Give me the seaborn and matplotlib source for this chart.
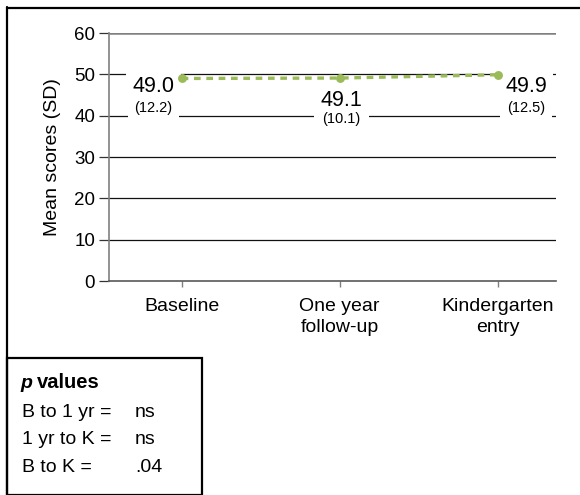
import matplotlib
matplotlib.use("Agg")
import matplotlib.pyplot as plt
import seaborn as sns
import pandas as pd
from matplotlib.lines import Line2D
from matplotlib.patches import Rectangle

categories = ["Baseline", "One year\nfollow-up", "Kindergarten\nentry"]
means = [49.0, 49.1, 49.9]
sds = [12.2, 10.1, 12.5]
yticks = [0, 10, 20, 30, 40, 50, 60]
pv_labels = ["B to 1 yr =", "1 yr to K =", "B to K ="]
pv_values = ["ns", "ns", ".04"]

sns.set_style("white")
plt.rcParams['font.family'] = ['Liberation Sans', 'DejaVu Sans']
plt.rcParams['text.color'] = 'black'
plt.rcParams['axes.labelcolor'] = 'black'
plt.rcParams['xtick.color'] = 'black'
plt.rcParams['ytick.color'] = 'black'

W, H = 580, 495
fig = plt.figure(figsize=(W / 100, H / 100), dpi=100)

def fx(px):
    return px / W

def fy(py):
    return 1 - py / H

ax = fig.add_axes([fx(109), fy(281), fx(556) - fx(109), fy(33) - fy(281)])

df = pd.DataFrame({"pos": range(len(categories)), "mean": means})
green = "#9BBB59"
sns.lineplot(data=df, x="pos", y="mean", ax=ax, color=green, lw=2.4,
             marker="o", markersize=6.4, markeredgewidth=0, zorder=4,
             linestyle=(0, (2.0, 1.7)))

ax.set_xlim(-0.46, 2.37)
ax.set_ylim(0, 60)
ax.set_yticks(yticks)
ax.set_yticklabels([str(v) for v in yticks], fontsize=13.5)
ax.set_xticks(range(len(categories)))
ax.set_xticklabels(categories, fontsize=14, linespacing=1.3)
ax.set_xlabel("")
ax.set_ylabel("Mean scores (SD)", fontsize=14, va="center")
ax.yaxis.set_label_coords((53 - 109) / 447, 0.5)

for v in yticks[1:-1]:
    ax.axhline(v, color="#111111", lw=0.9, zorder=1)
ax.axhline(60, color="#808080", lw=1.8, zorder=1)

for s in ["top", "right"]:
    ax.spines[s].set_visible(False)
ax.spines["left"].set_color("#808080")
ax.spines["left"].set_linewidth(1.2)
ax.spines["bottom"].set_color("#595959")
ax.spines["bottom"].set_linewidth(1.2)
ax.tick_params(axis="y", direction="out", length=7.5, width=0.9, color="#333333", left=True, pad=2.5)
ax.tick_params(axis="x", direction="out", length=4, width=1.0, color="#808080", bottom=True, pad=8)

# value labels
lab_pos = [(-0.18, 45.8, 40.9), (1.013, 42.3, 38.2), (2.18, 45.8, 40.9)]
for (xp, ym, ys), m, s in zip(lab_pos, means, sds):
    ax.text(xp, ym, f"{m:.1f}", fontsize=15.5, ha="center", va="baseline", zorder=3,
            bbox=dict(boxstyle="square,pad=0.3", fc="white", ec="none"))
    ax.text(xp, ys, f"({s:.1f})", fontsize=10.5, ha="center", va="baseline", zorder=3,
            bbox=dict(boxstyle="square,pad=0.45", fc="white", ec="none"))

# outer border
fig.add_artist(Line2D([fx(7), fx(7)], [fy(7), 0], color="black", lw=1.6))
fig.add_artist(Line2D([fx(7), 1], [fy(7.5), fy(7.5)], color="black", lw=1.6))

# p values box
fig.add_artist(Rectangle((fx(7), 0), fx(201.5) - fx(7), fy(358), fill=False,
                         ec="black", lw=1.6, transform=fig.transFigure))
fig.text(fx(20), fy(388), "p", fontsize=14, fontweight="bold", fontstyle="italic", va="baseline")
fig.text(fx(37), fy(388), "values", fontsize=14.5, fontweight="bold", va="baseline")
for i, (lab, val) in enumerate(zip(pv_labels, pv_values)):
    yy = fy(417 + i * 27.5)
    fig.text(fx(22), yy, lab, fontsize=14, va="baseline")
    fig.text(fx(135), yy, val, fontsize=14, va="baseline")

fig.savefig("out.png", dpi=100)
